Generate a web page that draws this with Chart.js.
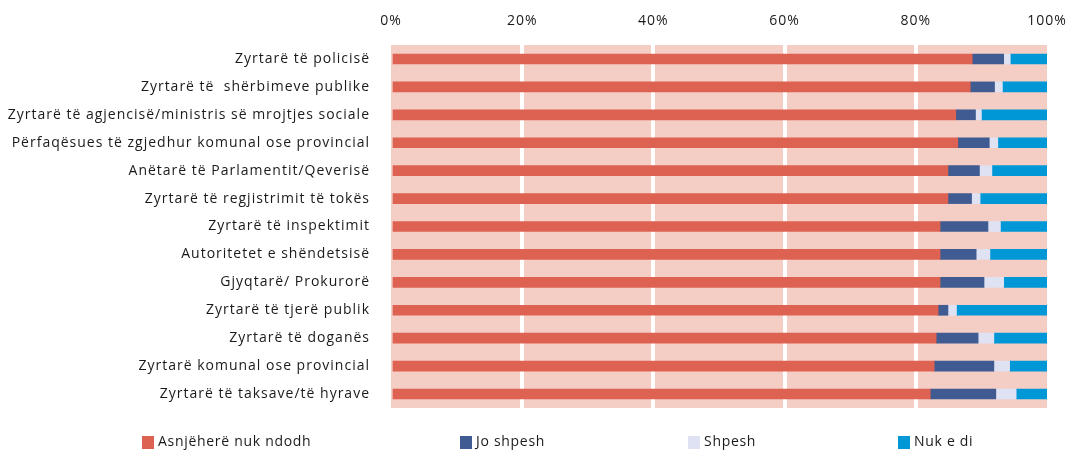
<!DOCTYPE html>
<html>
<head>
<meta charset="utf-8">
<script src="https://cdn.jsdelivr.net/npm/chart.js@4"></script>
<style>
  body { margin: 0; background: #fff; }
  #wrap { position: relative; width: 1074px; height: 450px; }
  #legend { position: absolute; left: 0; top: 0; width: 1074px; height: 450px; pointer-events: none;
            font-family: 'Open Sans', sans-serif; font-size: 14px; letter-spacing: 0.7px; color: #1a1a1a; }
  .item { position: absolute; top: 432px; white-space: nowrap; line-height: 17px; }
  .box { position: absolute; left: 0; top: 4px; width: 12px; height: 13px; }
  .txt { position: absolute; left: 16px; top: 0; }
</style>
</head>
<body>
<div id="wrap">
  <canvas id="chart"></canvas>
  <div id="legend"></div>
</div>
<script>
const categories = [
  'Zyrtarë të policisë',
  'Zyrtarë të  shërbimeve publike',
  'Zyrtarë të agjencisë/ministris së mrojtjes sociale',
  'Përfaqësues të zgjedhur komunal ose provincial',
  'Anëtarë të Parlamentit/Qeverisë',
  'Zyrtarë të regjistrimit të tokës',
  'Zyrtarë të inspektimit',
  'Autoritetet e shëndetsisë',
  'Gjyqtarë/ Prokurorë',
  'Zyrtarë të tjerë publik',
  'Zyrtarë të doganës',
  'Zyrtarë komunal ose provincial',
  'Zyrtarë të taksave/të hyrave'
];
const seriesNames = ['Asnjëherë nuk ndodh', 'Jo shpesh', 'Shpesh', 'Nuk e di'];
const never    = [88.6, 88.3, 86.1, 86.4, 84.9, 84.9, 83.7, 83.7, 83.7, 83.4, 83.1, 82.8, 82.2];
const notOften = [4.8, 3.7, 3.0, 4.8, 4.8, 3.6, 7.3, 5.5, 6.7, 1.5, 6.4, 9.1, 10.0];
const often    = [1.0, 1.2, 0.9, 1.3, 1.9, 1.3, 1.9, 2.1, 3.0, 1.3, 2.4, 2.4, 3.1];
const dontKnow = [5.6, 6.8, 10.0, 7.5, 8.4, 10.2, 7.1, 8.7, 6.6, 13.8, 8.1, 5.7, 4.7];
const xTicks = [0, 20, 40, 60, 80, 100];

const colors = ['#DE6252', '#3F5B91', '#DEE2F3', '#0097D7'];
const fontFamily = "'Open Sans', sans-serif";

// pink plot background + a bit of letter spacing like the original
const plotBg = {
  id: 'plotBg',
  beforeLayout(chart) { chart.ctx.letterSpacing = '1px'; },
  beforeDraw(chart) {
    const a = chart.chartArea, c = chart.ctx;
    c.letterSpacing = '1px';
    c.save();
    c.fillStyle = '#F4CDC4';
    c.fillRect(a.left, a.top, a.right - a.left, a.bottom - a.top);
    c.restore();
  }
};

new Chart(document.getElementById('chart'), {
  type: 'bar',
  data: {
    labels: categories,
    datasets: [never, notOften, often, dontKnow].map((d, i) => ({
      label: seriesNames[i],
      data: d,
      backgroundColor: colors[i],
      barThickness: 10
    }))
  },
  options: {
    indexAxis: 'y',
    responsive: true,
    maintainAspectRatio: false,
    animation: false,
    layout: { padding: { left: 0, right: 27, top: 0, bottom: 42 } },
    scales: {
      x: {
        stacked: true,
        position: 'top',
        min: 0,
        max: 100,
        afterBuildTicks(axis) { axis.ticks = xTicks.map(v => ({ value: v })); },
        afterFit(scale) {
          scale.height = 45;
          scale.paddingLeft = 0;
          scale.paddingRight = 0;
        },
        ticks: {
          callback: v => v + '%',
          color: '#1a1a1a',
          font: { family: fontFamily, size: 14 },
          padding: 16,
          maxRotation: 0
        },
        grid: {
          color: ctx => (ctx.tick && (ctx.tick.value === 0 || ctx.tick.value === 100)) ? 'rgba(0,0,0,0)' : '#ffffff',
          lineWidth: 4,
          drawTicks: false
        },
        border: { display: false }
      },
      y: {
        stacked: true,
        afterFit(scale) { scale.width = 391; },
        ticks: {
          color: '#1a1a1a',
          font: { family: fontFamily, size: 14 },
          padding: 21,
          autoSkip: false
        },
        grid: { display: false, drawTicks: false },
        border: { display: false }
      }
    },
    plugins: {
      legend: { display: false },
      tooltip: { enabled: false }
    }
  },
  plugins: [plotBg]
});

// legend as text below the chart, same spacing as the original
const legendX = [142, 460, 688, 898];
const legend = document.getElementById('legend');
seriesNames.forEach((name, i) => {
  const item = document.createElement('div');
  item.className = 'item';
  item.style.left = legendX[i] + 'px';
  item.innerHTML = '<span class="box" style="background:' + colors[i] + '"></span><span class="txt">' + name + '</span>';
  legend.appendChild(item);
});
</script>
</body>
</html>
